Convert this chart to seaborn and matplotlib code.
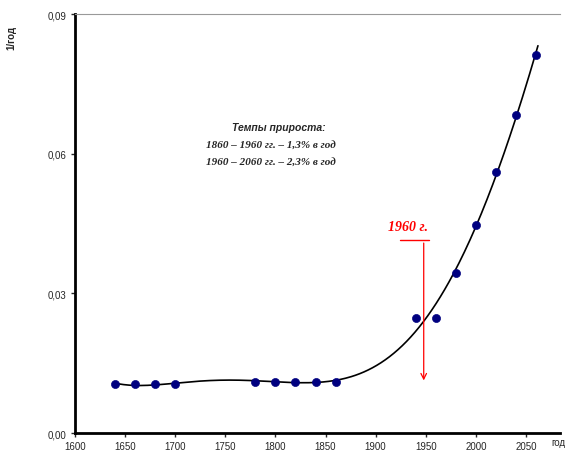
import numpy as np
import pandas as pd
import seaborn as sns
import matplotlib
matplotlib.use("Agg")
import matplotlib.pyplot as plt

# observed growth rate, 1/year
years = [1640, 1660, 1680, 1700, 1780, 1800, 1820, 1840, 1860,
         1940, 1960, 1980, 2000, 2020, 2040, 2060]
rates = [0.0105, 0.0105, 0.0105, 0.0105, 0.0110, 0.0110, 0.0110, 0.0110, 0.0109,
         0.0248, 0.0248, 0.0343, 0.0446, 0.0560, 0.0682, 0.0812]

x_ticks = [1600, 1650, 1700, 1750, 1800, 1850, 1900, 1950, 2000, 2050]
y_ticks = [0.00, 0.03, 0.06, 0.09]
y_tick_labels = ["0,00", "0,03", "0,06", "0,09"]

note_title = "Темпы прироста:"
note_lines = ["1860 – 1960 гг. – 1,3% в год", "1960 – 2060 гг. – 2,3% в год"]
marker_label = "1960 г."
marker_year = 1948

df = pd.DataFrame({"year": years, "rate": rates})

sns.set_style("white")
plt.rcParams["font.family"] = ["Liberation Sans", "DejaVu Sans"]

fig = plt.figure(figsize=(5.74, 4.52), dpi=100)
ax = fig.add_axes([0.1307, 0.0398, 0.8449, 0.927])

# polynomial trend line, like a spreadsheet trendline
t = (df["year"] - 1850) / 100
coef = np.polyfit(t, df["rate"], 5)
xs = np.linspace(1640, 2062, 300)
trend = pd.DataFrame({"year": xs, "rate": np.polyval(coef, (xs - 1850) / 100)})
sns.lineplot(data=trend, x="year", y="rate", color="black", lw=1.2, ax=ax)

sns.scatterplot(data=df, x="year", y="rate", color="#000080", s=34,
                marker="o", edgecolor="#000080", ax=ax, zorder=3)

ax.set_xlim(1600, 2084)
ax.set_ylim(0, 0.09)
ax.set_xticks(x_ticks)
ax.set_yticks(y_ticks)
ax.set_yticklabels(y_tick_labels)
ax.tick_params(labelsize=7, length=3, width=1, pad=3, direction="out",
               bottom=True, left=True)
ax.set_xlabel("")
ax.set_ylabel("")

for side in ["left", "bottom"]:
    ax.spines[side].set_linewidth(2)
    ax.spines[side].set_color("black")
ax.spines["right"].set_visible(False)
ax.spines["top"].set_color("#999999")
ax.spines["top"].set_linewidth(0.8)

fig.text(0.02, 0.915, "1/год", rotation=90, fontsize=7, fontweight="bold",
         ha="center", va="center")
fig.text(0.985, 0.008, "год", fontsize=7, ha="right", va="bottom")

# growth-rate note
ax.text(1803, 0.0657, note_title, fontsize=7.5, fontweight="bold",
        style="italic", ha="center", va="center")
for i, line in enumerate(note_lines):
    ax.text(1795, 0.0621 - i * 0.0037, line, fontsize=8, fontweight="bold",
            style="italic", ha="center", va="center",
            family=["Liberation Serif", "DejaVu Serif"])

# 1960 marker
ax.plot([1924, 1953], [0.0414, 0.0414], color="red", lw=1)
ax.annotate("", xy=(marker_year, 0.0107), xytext=(marker_year, 0.0414),
            arrowprops=dict(arrowstyle="->", color="red", lw=0.9,
                            mutation_scale=10))
ax.text(1932, 0.0443, marker_label, color="red", fontsize=10,
        fontweight="bold", style="italic", ha="center", va="center",
        family=["Liberation Serif", "DejaVu Serif"])

fig.savefig("out.png", dpi=100)
